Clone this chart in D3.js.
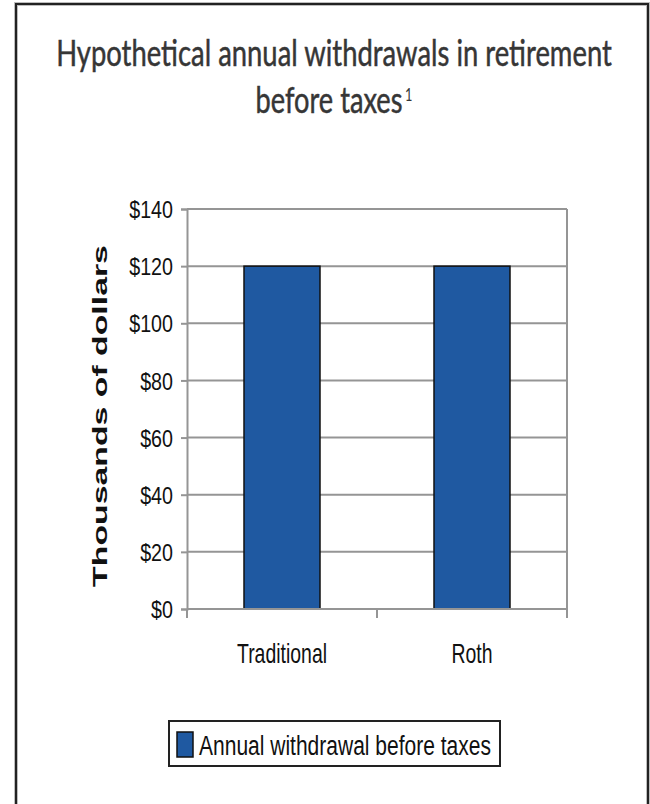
<!DOCTYPE html>
<html>
<head>
<meta charset="utf-8">
<script src="https://cdn.jsdelivr.net/npm/d3@7"></script>
<style>
  html, body { margin: 0; padding: 0; background: #fff; }
  svg { display: block; }
</style>
</head>
<body>
<svg id="chart" width="650" height="804"></svg>
<script>
// Chart data
const categories = ["Traditional", "Roth"];
const withdrawals = [120, 120];          // thousands of dollars
const yTicks = [0, 20, 40, 60, 80, 100, 120, 140];
const seriesName = "Annual withdrawal before taxes";
const titleLine1 = "Hypothetical annual withdrawals in retirement";
const titleLine2 = "before taxes";
const titleNote = "1";
const yTitle = "Thousands of dollars";

const svg = d3.select("#chart");
const barColor = "#1f59a1";
const gridColor = "#959595";
const sansFont = "'Liberation Sans', Arial, sans-serif";
const titleFont = "Lato, 'Open Sans', sans-serif";

// Place a text at (x, y) and condense it along its reading direction
// so that its rendered width becomes `width` (or natural width * factor).
function placeCondensed(sel, x, y, opts) {
  sel.each(function () {
    const w = this.getComputedTextLength();
    const sx = opts.width ? opts.width / w : opts.factor;
    const rot = opts.rotate ? ` rotate(${opts.rotate})` : "";
    d3.select(this)
      .attr("x", 0).attr("y", 0)
      .attr("transform", `translate(${x},${y})${rot} scale(${sx},1)`);
  });
}

// Outer frame
svg.append("rect")
  .attr("x", 16).attr("y", 4)
  .attr("width", 632).attr("height", 820)
  .attr("fill", "none")
  .attr("stroke", "#bdbdbd").attr("stroke-width", 4);
svg.append("rect")
  .attr("x", 16).attr("y", 4)
  .attr("width", 632).attr("height", 820)
  .attr("fill", "none")
  .attr("stroke", "#222").attr("stroke-width", 2);

// Title
const titleStyle = s => s
  .attr("font-family", titleFont)
  .attr("font-size", 37)
  .attr("fill", "#363636")
  .attr("stroke", "#363636")
  .attr("stroke-width", 0.5);

svg.append("text")
  .call(titleStyle)
  .attr("text-anchor", "middle")
  .text(titleLine1)
  .call(placeCondensed, 334, 66, { width: 556 });

svg.append("text")
  .call(titleStyle)
  .attr("text-anchor", "middle")
  .text(titleLine2)
  .call(placeCondensed, 329, 113, { width: 147 });

svg.append("text")
  .attr("font-family", titleFont)
  .attr("font-size", 17)
  .attr("fill", "#363636")
  .text(titleNote)
  .call(placeCondensed, 405, 101, { factor: 0.75 });

// Plot area
const plot = { left: 187, right: 567, top: 209, bottom: 609 };

const x = d3.scaleBand()
  .domain(categories)
  .range([plot.left, plot.right])
  .paddingInner(0.6)
  .paddingOuter(0.3);

const xCat = d3.scaleBand()
  .domain(categories)
  .range([plot.left, plot.right]);

const y = d3.scaleLinear()
  .domain([0, 140])
  .range([plot.bottom, plot.top]);

// Gridlines
svg.append("g")
  .selectAll("line")
  .data(yTicks)
  .join("line")
  .attr("x1", plot.left).attr("x2", plot.right)
  .attr("y1", d => y(d)).attr("y2", d => y(d))
  .attr("stroke", gridColor).attr("stroke-width", 2);

// Right edge of plot area
svg.append("line")
  .attr("x1", plot.right).attr("x2", plot.right)
  .attr("y1", y(140)).attr("y2", y(0))
  .attr("stroke", gridColor).attr("stroke-width", 2);

// Bars
svg.append("g")
  .selectAll("rect")
  .data(withdrawals)
  .join("rect")
  .attr("x", (d, i) => x(categories[i]))
  .attr("y", d => y(d))
  .attr("width", x.bandwidth())
  .attr("height", d => y(0) - y(d))
  .attr("fill", barColor)
  .attr("stroke", "#111")
  .attr("stroke-width", 1.5);

// Y axis
const yAxis = svg.append("g")
  .attr("transform", `translate(${plot.left},0)`)
  .call(d3.axisLeft(y).tickValues(yTicks).tickSize(6).tickPadding(9)
    .tickFormat(d => "$" + d));
yAxis.select(".domain").attr("stroke", gridColor).attr("stroke-width", 2);
yAxis.selectAll(".tick line").attr("stroke", gridColor).attr("stroke-width", 2);
yAxis.selectAll(".tick text")
  .attr("font-family", sansFont)
  .attr("font-size", 24)
  .attr("fill", "#111")
  .attr("dy", "0.36em")
  .attr("transform", "translate(-14,0) scale(0.82,1)")
  .attr("x", 0);

// X axis: ticks between categories
const xAxisG = svg.append("g")
  .attr("transform", `translate(0,${plot.bottom})`);
xAxisG.append("line")
  .attr("x1", plot.left).attr("x2", plot.right)
  .attr("stroke", gridColor).attr("stroke-width", 2);
const edges = [plot.left].concat(categories.map(c => xCat(c) + xCat.bandwidth()));
xAxisG.selectAll("line.sep")
  .data(edges)
  .join("line")
  .attr("class", "sep")
  .attr("x1", d => d).attr("x2", d => d)
  .attr("y1", 0).attr("y2", 9)
  .attr("stroke", gridColor).attr("stroke-width", 2);
xAxisG.selectAll("text")
  .data(categories)
  .join("text")
  .attr("text-anchor", "middle")
  .attr("font-family", sansFont)
  .attr("font-size", 27)
  .attr("fill", "#111")
  .text(d => d)
  .each(function (d) {
    d3.select(this).attr("transform",
      `translate(${xCat(d) + xCat.bandwidth() / 2},54) scale(0.72,1)`);
  });

// Y axis title
svg.append("text")
  .attr("text-anchor", "middle")
  .attr("font-family", sansFont)
  .attr("font-weight", "bold")
  .attr("font-size", 20)
  .attr("fill", "#111")
  .text(yTitle)
  .call(placeCondensed, 107, (plot.top + plot.bottom) / 2 + 7, { width: 342, rotate: -90 });

// Legend
const legend = svg.append("g");
legend.append("rect")
  .attr("x", 169).attr("y", 721)
  .attr("width", 331).attr("height", 45)
  .attr("fill", "#fff")
  .attr("stroke", "#222").attr("stroke-width", 2);
legend.append("rect")
  .attr("x", 177).attr("y", 732)
  .attr("width", 16).attr("height", 25)
  .attr("fill", barColor)
  .attr("stroke", "#111").attr("stroke-width", 1.5);
legend.append("text")
  .attr("font-family", sansFont)
  .attr("font-size", 27)
  .attr("fill", "#111")
  .text(seriesName)
  .call(placeCondensed, 199, 755, { width: 292 });
</script>
</body>
</html>
